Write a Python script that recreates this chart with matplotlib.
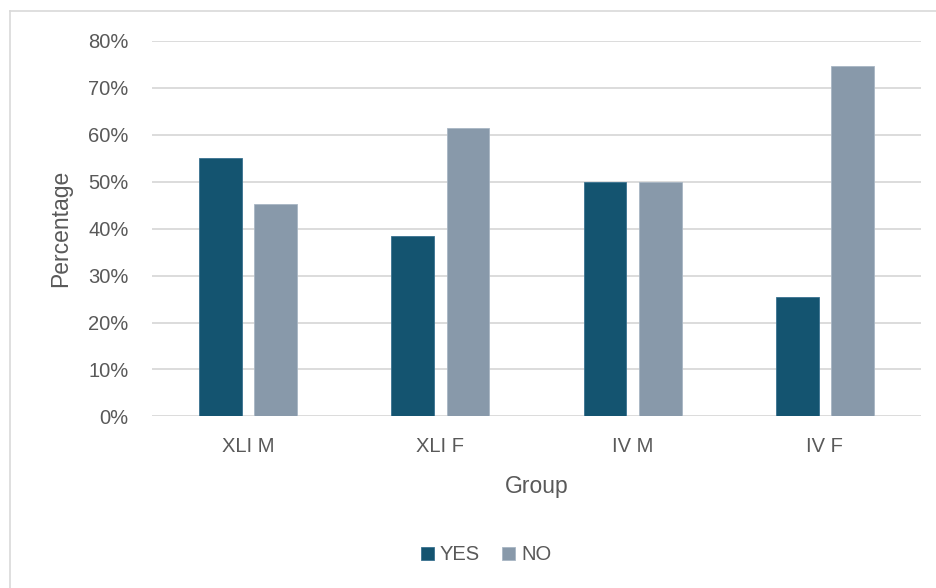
import matplotlib
matplotlib.use("Agg")
import matplotlib.pyplot as plt
from matplotlib.lines import Line2D
from matplotlib.ticker import PercentFormatter
import numpy as np

# 基础设置
plt.rcParams['font.family'] = ['Liberation Sans', 'DejaVu Sans']
plt.rcParams['font.size'] = 14

groups = ["XLI M", "XLI F", "IV M", "IV F"]
yes_pct = [55.0, 38.5, 50.0, 25.4]
no_pct = [45.2, 61.5, 50.0, 74.6]
series_names = ["YES", "NO"]

c_yes = '#145470'
c_no = '#8899AA'
txt = '#595959'

fig = plt.figure(figsize=(9.37, 5.88), dpi=100)
ax = fig.add_axes([152 / 937, 1 - 416.4 / 588, 769 / 937, 375.4 / 588])

x = np.arange(len(groups))
w = 0.223
off = 0.144
ax.bar(x - off, yes_pct, w, color=c_yes, edgecolor='#3a7290', linewidth=0.6,
       label=series_names[0], zorder=3)
ax.bar(x + off, no_pct, w, color=c_no, edgecolor='#a8b6c4', linewidth=0.6,
       label=series_names[1], zorder=3)

ax.set_xlim(-0.5, 3.5)
ax.set_ylim(0, 80)
ax.set_yticks(np.arange(0, 81, 10))
ax.yaxis.set_major_formatter(PercentFormatter(decimals=0))
ax.set_xticks(x)
ax.set_xticklabels(groups)
ax.grid(axis='y', color='#d9d9d9', linewidth=1.3, zorder=0)
for s in ax.spines.values():
    s.set_visible(False)
ax.tick_params(length=0, colors=txt, labelsize=14.5)
ax.tick_params(axis='x', pad=15)
ax.tick_params(axis='y', pad=17)

ax.set_xlabel("Group", color=txt, fontsize=16.5, va='center')
ax.set_ylabel("Percentage", color=txt, fontsize=16.5, va='center')
ax.xaxis.set_label_coords(0.5, -(486 - 416.4) / 375.4)
ax.yaxis.set_label_coords(-(152 - 61) / 769, 0.5)

leg = fig.legend(loc='center', bbox_to_anchor=(486 / 937, 1 - 555 / 588), ncol=2,
                 frameon=False, fontsize=14.5, handlelength=0.65, handleheight=0.65,
                 handletextpad=0.3, columnspacing=1.1)
for t in leg.get_texts():
    t.set_color(txt)

# 外框（左、上）
fig.add_artist(Line2D([10 / 937, 10 / 937], [0, 1 - 11 / 588], transform=fig.transFigure,
                      color='#d9d9d9', linewidth=1.2))
fig.add_artist(Line2D([10 / 937, 1], [1 - 11 / 588, 1 - 11 / 588], transform=fig.transFigure,
                      color='#d9d9d9', linewidth=1.2))

fig.savefig("out.png", dpi=100, facecolor='white')
